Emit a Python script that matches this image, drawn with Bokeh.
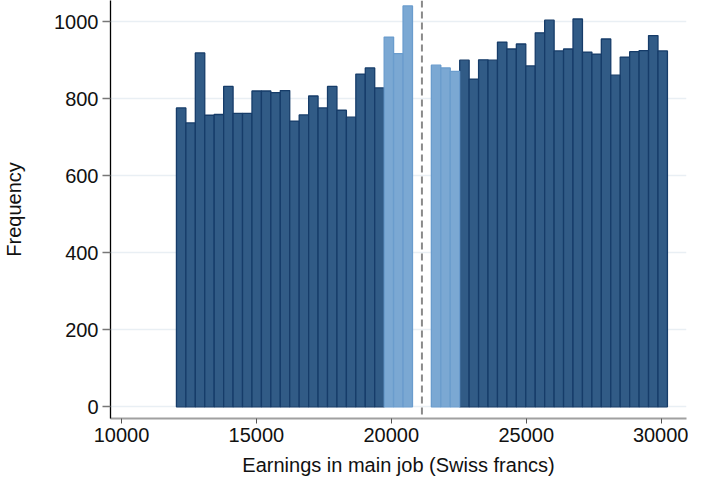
from bokeh.plotting import figure
from bokeh.models import Span, FixedTicker, ColumnDataSource
from bokeh.embed import file_html
from bokeh.resources import INLINE

# ---- data ----
threshold = 21135
bin_width = 350
left_counts = [776, 737, 919, 757, 759, 832, 762, 762, 820, 820, 816, 821,
               742, 758, 807, 776, 832, 770, 752, 864, 880, 828,
               960, 917, 1041]
right_counts = [887, 880, 871,
                900, 851, 901, 900, 947, 929, 942, 885, 971, 1004, 924,
                929, 1007, 921, 916, 955, 861, 908, 922, 925, 964, 924]
left_near = [False] * 22 + [True] * 3
right_near = [True] * 3 + [False] * 22
x_ticks = [10000, 15000, 20000, 25000, 30000]
y_ticks = [0, 200, 400, 600, 800, 1000]

n_left = len(left_counts)
left_centres = [threshold - bin_width * (n_left + 1) + bin_width * (i + 0.5) for i in range(n_left)]
right_centres = [threshold + bin_width * (i + 1.5) for i in range(len(right_counts))]

centres = left_centres + right_centres
counts = left_counts + right_counts
near = left_near + right_near

DARK_FILL, DARK_LINE = "#315b86", "#163c69"
LIGHT_FILL, LIGHT_LINE = "#7ba8d3", "#6a9ccd"

dark = ColumnDataSource(dict(x=[c for c, n in zip(centres, near) if not n],
                             top=[v for v, n in zip(counts, near) if not n]))
light = ColumnDataSource(dict(x=[c for c, n in zip(centres, near) if n],
                              top=[v for v, n in zip(counts, near) if n]))

FONT = "Liberation Sans"

p = figure(width=688, height=478, output_backend="svg", toolbar_location=None,
           x_range=(9591, 30942), y_range=(-30.4, 1055),
           min_border_left=97, min_border_right=2, min_border_top=0, min_border_bottom=60)
p.outline_line_color = None
p.background_fill_color = "white"

p.vbar(x="x", top="top", bottom=0, width=bin_width, source=dark,
       fill_color=DARK_FILL, line_color=DARK_LINE, line_width=1.3)
p.vbar(x="x", top="top", bottom=0, width=bin_width, source=light,
       fill_color=LIGHT_FILL, line_color=LIGHT_LINE, line_width=1.3)

p.add_layout(Span(location=threshold, dimension="height", line_color="#8a8a8a",
                  line_width=2, line_dash="7 4"))

# grid
p.xgrid.visible = False
p.ygrid.grid_line_color = "#e9eff4"
p.ygrid.grid_line_width = 1.5
p.ygrid.level = "underlay"

# axes
p.xaxis.ticker = FixedTicker(ticks=x_ticks)
p.yaxis.ticker = FixedTicker(ticks=y_ticks)
p.xaxis.axis_label = "Earnings in main job (Swiss francs)"
p.yaxis.axis_label = "Frequency"
for ax in (p.xaxis[0], p.yaxis[0]):
    ax.axis_label_text_font = FONT
    ax.axis_label_text_font_size = "20px"
    ax.axis_label_text_font_style = "normal"
    ax.axis_label_text_color = "#111111"
    ax.major_label_text_font = FONT
    ax.major_label_text_font_size = "20px"
    ax.major_label_text_color = "#111111"
    ax.minor_tick_line_color = None
    ax.major_tick_in = 0

p.xaxis.axis_line_color = "#a0a0a0"
p.xaxis.axis_line_width = 2
p.xaxis.major_tick_line_color = "#555555"
p.xaxis.major_tick_out = 5
p.xaxis.major_label_standoff = 4
p.xaxis.axis_label_standoff = 9

p.yaxis.axis_line_color = "black"
p.yaxis.axis_line_width = 1.3
p.yaxis.major_tick_line_color = "#777777"
p.yaxis.major_tick_line_width = 1.5
p.yaxis.major_tick_out = 8
p.yaxis.major_label_standoff = 4
p.yaxis.major_label_orientation = "horizontal"
p.yaxis.axis_label_standoff = 26

open("out.html", "w").write(file_html(p, INLINE))
